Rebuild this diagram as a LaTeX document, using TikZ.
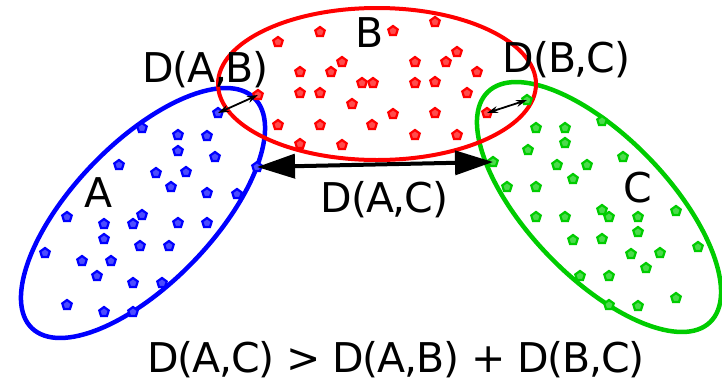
\documentclass[tikz,border=0pt]{standalone}
\usepackage{fontspec}
\setmainfont{DejaVu Sans}[LetterSpace=-3.0]
\usetikzlibrary{shapes.geometric,arrows.meta}
\definecolor{clA}{RGB}{0,0,255}
\definecolor{clB}{RGB}{255,0,0}
\definecolor{clC}{RGB}{0,204,0}
\tikzset{
  hull/.style={line width=4.5pt},
  pt/.style={regular polygon, regular polygon sides=5, minimum size=10pt,
    inner sep=0pt, line width=2.2pt, draw=#1, fill=#1!70!white},
  lbl/.style={inner sep=0pt, anchor=base, font=\fontsize{41}{41}\selectfont},
  gap/.style={line width=1.8pt, {Stealth[length=11pt,width=7pt]}-{Stealth[length=11pt,width=7pt]}},
  biggap/.style={line width=4pt, {Triangle[length=38pt,width=24pt]}-{Triangle[length=38pt,width=24pt]}}
}
\begin{document}
\begin{tikzpicture}[x=1pt,y=-1pt]
\useasboundingbox (0,0) rectangle (722,381);
\fill[white] (0,0) rectangle (722,381);

% cluster outlines
\draw[hull,clA,rotate around={46:(143,213)}] (143,213) ellipse [x radius=160, y radius=70];
\draw[hull,clC,rotate around={-46:(599,207)}] (599,207) ellipse [x radius=160, y radius=70];
\draw[hull,line width=4pt,clB] (377,84) ellipse [x radius=159, y radius=76];

% cluster A points
\foreach \p [count=\i] in {(142,128),(178,135),(207,136),(178,151),(215,157),(119,165),
  (156,173),(186,172),(171,187),(207,193),(237,194),(67,217),(142,215),(133,224),
  (104,224),(178,223),(207,223),(104,239),(140,246),(169,246),(45,253),(82,261),
  (111,261),(97,276),(133,283),(162,283),(67,305),(104,312),(133,312)}
  \node[pt=clA] (a\i) at \p {};
\node[pt=clA] (ab) at (218,113) {};
\node[pt=clA] (ac) at (257,167) {};

% cluster B points
\foreach \p [count=\i] in {(435,22),(320,32),(393,31),(278,42),(457,52),(342,62),
  (415,62),(446,62),(300,72),(331,72),(477,72),(362,83),(373,83),(415,83),(435,82),
  (300,93),(320,93),(467,93),(352,104),(393,114),(435,113),(278,125),(320,125),
  (372,125),(415,135),(457,135),(300,144),(342,145)}
  \node[pt=clB] (b\i) at \p {};
\node[pt=clB] (ba) at (258,95) {};
\node[pt=clB] (bc) at (487,113) {};

% cluster C points
\foreach \p [count=\i] in {(536,128),(565,128),(602,121),(565,143),(528,150),(623,157),
  (557,165),(587,165),(573,179),(507,187),(536,187),(602,210),(609,217),(536,217),
  (565,217),(638,217),(676,211),(638,232),(573,240),(602,239),(631,254),(660,253),
  (698,247),(646,268),(580,276),(609,276),(676,298),(609,305),(638,306)}
  \node[pt=clC] (c\i) at \p {};
\node[pt=clC] (ca) at (493,162) {};
\node[pt=clC] (cb) at (527,100) {};

% distances between clusters
\draw[gap] (ab.center) -- (ba.center);
\draw[gap] (bc.center) -- (cb.center);
\draw[biggap] (ac.center) -- (ca.center);

% labels
\node[lbl] (tA) at (99,207) {A};
\node[lbl] (tB) at (369.5,47) {B};
\node[lbl] (tC) at (637.5,202) {C};
\node[lbl] (tAB) at (205.5,82) {D(A,B)};
\node[lbl] (tBC) at (566.5,72) {D(B,C)};
\node[lbl] (tAC) at (384.5,212) {D(A,C)};
\node[lbl] (tIneq) at (396,372) {D(A,C) > D(A,B) + D(B,C)};
\end{tikzpicture}
\end{document}
